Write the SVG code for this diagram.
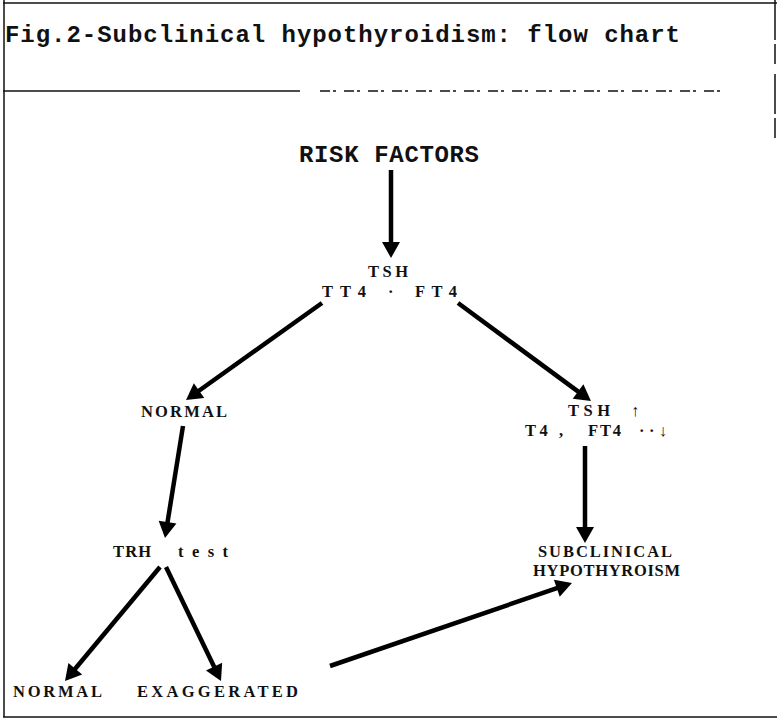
<svg xmlns="http://www.w3.org/2000/svg" width="777" height="723" viewBox="0 0 777 723">
<style>
.mono{font-family:"Liberation Mono","DejaVu Sans Mono",monospace;font-weight:bold;font-size:24px;fill:#111}
.lbl{font-family:"Liberation Serif","DejaVu Serif",serif;font-size:16.5px;font-weight:bold;fill:#111}
.frame{stroke:#111;fill:none;stroke-width:1.5}
.conn{stroke:#000;stroke-width:4.5;fill:none;marker-end:url(#ah)}
</style>
<defs>
<marker id="ah" markerUnits="userSpaceOnUse" markerWidth="18" markerHeight="18" refX="4" refY="9" orient="auto" overflow="visible">
<path d="M0,0 L16,9 L0,18 Z" fill="#000"/>
</marker>
</defs>
<rect width="777" height="723" fill="#fff"/>
<g id="frame">
<line class="frame" x1="3" y1="3" x2="777" y2="3"/>
<line class="frame" x1="4" y1="0" x2="4" y2="717"/>
<line class="frame" x1="3" y1="717" x2="777" y2="717"/>
<line class="frame" x1="3" y1="91" x2="300" y2="91"/>
<line class="frame" x1="320" y1="91" x2="720" y2="91" stroke-dasharray="10 3 3 8" stroke-width="1"/>
<line class="frame" x1="775" y1="0" x2="775" y2="143" stroke-dasharray="40 4 20 10" stroke-width="1.2"/>
</g>
<g id="title"><text class="mono" x="5" y="42" textLength="675" lengthAdjust="spacing">Fig.2-Subclinical hypothyroidism: flow chart</text></g>
<g id="risk"><text class="mono" x="299" y="162" textLength="180" lengthAdjust="spacing">RISK FACTORS</text></g>
<g id="tsh">
<text class="lbl" x="368" y="277" textLength="40" lengthAdjust="spacing">TSH</text>
<text class="lbl" x="322" y="297" textLength="44" lengthAdjust="spacing">TT4</text>
<text class="lbl" x="388" y="297">·</text>
<text class="lbl" x="415" y="297" textLength="42" lengthAdjust="spacing">FT4</text>
</g>
<g id="normal1"><text class="lbl" x="141" y="417" textLength="86" lengthAdjust="spacing">NORMAL</text></g>
<g id="tshup">
<text class="lbl" x="568" y="416" textLength="42" lengthAdjust="spacing">TSH</text>
<text class="lbl" x="631" y="416">↑</text>
<text class="lbl" x="525" y="436" textLength="38" lengthAdjust="spacing">T4 ,</text>
<text class="lbl" x="588" y="436" textLength="33" lengthAdjust="spacing">FT4</text>
<text class="lbl" x="639" y="436" textLength="28" lengthAdjust="spacing">··↓</text>
</g>
<g id="trh">
<text class="lbl" x="113" y="557" textLength="38" lengthAdjust="spacing">TRH</text>
<text class="lbl" x="178" y="557" textLength="50" lengthAdjust="spacing">test</text>
</g>
<g id="subclinical">
<text class="lbl" x="538" y="557" textLength="134" lengthAdjust="spacing">SUBCLINICAL</text>
<text class="lbl" x="533" y="576" textLength="147" lengthAdjust="spacing">HYPOTHYROISM</text>
</g>
<g id="normal2"><text class="lbl" x="13" y="697" textLength="89" lengthAdjust="spacing">NORMAL</text></g>
<g id="exaggerated"><text class="lbl" x="137" y="697" textLength="161" lengthAdjust="spacing">EXAGGERATED</text></g>
<g id="connectors">
<line class="conn" x1="391" y1="170" x2="391" y2="246"/>
<line class="conn" x1="322" y1="303" x2="195.8" y2="393"/>
<line class="conn" x1="458" y1="303" x2="581.3" y2="393.9"/>
<line class="conn" x1="183" y1="426" x2="166.9" y2="526.1"/>
<line class="conn" x1="585" y1="446" x2="585" y2="531"/>
<line class="conn" x1="160" y1="567" x2="72.7" y2="671.8"/>
<line class="conn" x1="166" y1="567" x2="215.8" y2="670.2"/>
<line class="conn" x1="330" y1="666" x2="560.6" y2="586.9"/>
</g>
</svg>
